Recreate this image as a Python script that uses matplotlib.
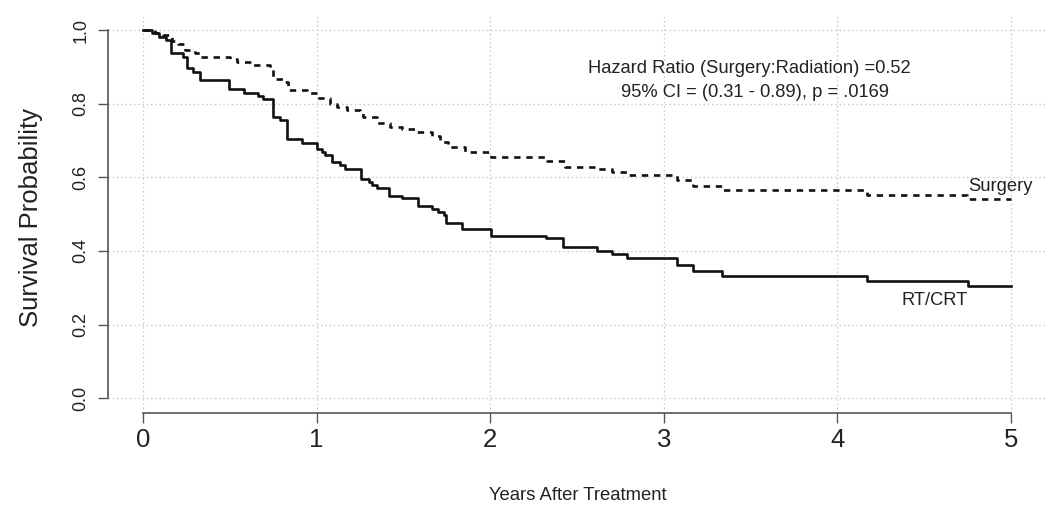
import matplotlib
matplotlib.use("Agg")
import matplotlib.pyplot as plt

plt.rcParams['font.family'] = ['Liberation Sans', 'DejaVu Sans']

# RT/CRT (solid) Kaplan-Meier steps
rt_time = [0, 0.05, 0.094, 0.132, 0.16, 0.232, 0.252, 0.29, 0.328, 0.497, 0.582, 0.664,
           0.693, 0.747, 0.789, 0.828, 0.914, 1.0, 1.03, 1.048, 1.087, 1.135, 1.164, 1.254,
           1.30, 1.317, 1.35, 1.419, 1.49, 1.586, 1.663, 1.70, 1.735, 1.744, 1.836, 2.003,
           2.321, 2.421, 2.614, 2.70, 2.79, 3.074, 3.17, 3.333, 4.17, 4.754, 5.0]
rt_surv = [1.0, 0.991, 0.982, 0.973, 0.937, 0.926, 0.896, 0.887, 0.864, 0.839, 0.830, 0.821,
           0.812, 0.764, 0.755, 0.705, 0.694, 0.678, 0.668, 0.66, 0.642, 0.633, 0.622, 0.595,
           0.587, 0.579, 0.57, 0.549, 0.543, 0.522, 0.515, 0.506, 0.497, 0.476, 0.459, 0.442,
           0.434, 0.411, 0.40, 0.391, 0.38, 0.361, 0.346, 0.333, 0.319, 0.305, 0.305]

# Surgery (dashed) Kaplan-Meier steps
sx_time = [0, 0.069, 0.117, 0.165, 0.2, 0.242, 0.3, 0.328, 0.5, 0.54, 0.636, 0.732, 0.75,
           0.818, 0.837, 0.943, 1.0, 1.077, 1.116, 1.173, 1.25, 1.27, 1.346, 1.423, 1.49,
           1.577, 1.663, 1.711, 1.759, 1.855, 2.003, 2.325, 2.431, 2.614, 2.70, 2.786, 3.074,
           3.17, 3.333, 4.169, 4.745, 5.0]
sx_surv = [1.0, 0.993, 0.986, 0.971, 0.962, 0.946, 0.937, 0.927, 0.92, 0.914, 0.905, 0.896,
           0.868, 0.86, 0.837, 0.828, 0.815, 0.80, 0.792, 0.783, 0.777, 0.764, 0.747, 0.736,
           0.73, 0.723, 0.712, 0.696, 0.681, 0.669, 0.655, 0.645, 0.629, 0.622, 0.615, 0.606,
           0.592, 0.577, 0.565, 0.553, 0.54, 0.54]

x_ticks = [0, 1, 2, 3, 4, 5]
y_ticks = [0.0, 0.2, 0.4, 0.6, 0.8, 1.0]
y_tick_labels = ["0.0", "0.2", "0.4", "0.6", "0.8", "1.0"]

W, H = 1050, 520
fig = plt.figure(figsize=(W / 100, H / 100), dpi=100)
ax = fig.add_axes([108.3 / W, 1 - 413.0 / H, (1045.7 - 108.3) / W, (413.0 - 15.3) / H])
ax.set_xlim(-0.2, 5.2)
ax.set_ylim(-0.04, 1.04)

for xv in x_ticks:
    ax.axvline(xv, color='#c8c8c8', lw=0.9, ls=(0, (1.2, 2.2)), zorder=0)
for yv in y_ticks:
    ax.axhline(yv, color='#c8c8c8', lw=0.9, ls=(0, (1.2, 2.2)), zorder=0)

ax.step(sx_time, sx_surv, where='post', color='#111111', lw=1.9, ls=(0, (2.4, 2.2)))
ax.step(rt_time, rt_surv, where='post', color='#111111', lw=1.9)

for s in ['top', 'right']:
    ax.spines[s].set_visible(False)
ax.spines['left'].set_bounds(0, 1)
ax.spines['bottom'].set_bounds(0, 5)
for s in ['left', 'bottom']:
    ax.spines[s].set_color('#555555')
    ax.spines[s].set_linewidth(1.2)

ax.set_xticks(x_ticks)
ax.set_xticklabels([str(v) for v in x_ticks])
ax.set_yticks(y_ticks)
ax.set_yticklabels(y_tick_labels, rotation=90, va='center')
ax.tick_params(axis='both', direction='out', length=7, width=1.0, color='#555555',
               labelcolor='#222222')
ax.tick_params(axis='x', labelsize=18.5, pad=3.6)
ax.tick_params(axis='y', labelsize=13, pad=6.8)

fig.text(31 / W, 1 - 217.5 / H, "Survival Probability", rotation=90, ha='center', va='center',
         fontsize=18.5, color='#222222')
fig.text(577.5 / W, 1 - 495 / H, "Years After Treatment", ha='center', va='center',
         fontsize=13.3, color='#222222')

fig.text(749 / W, 1 - 68.5 / H, "Hazard Ratio (Surgery:Radiation) =0.52", ha='center',
         va='center', fontsize=13.2, color='#222222')
fig.text(755 / W, 1 - 92.5 / H, "95% CI = (0.31 - 0.89), p = .0169", ha='center',
         va='center', fontsize=13.2, color='#222222')
fig.text(968 / W, 1 - 186.5 / H, "Surgery", ha='left', va='center', fontsize=13.2,
         color='#222222')
fig.text(935 / W, 1 - 300.5 / H, "RT/CRT", ha='center', va='center', fontsize=13.2,
         color='#222222')

fig.savefig("out.png", dpi=100)
